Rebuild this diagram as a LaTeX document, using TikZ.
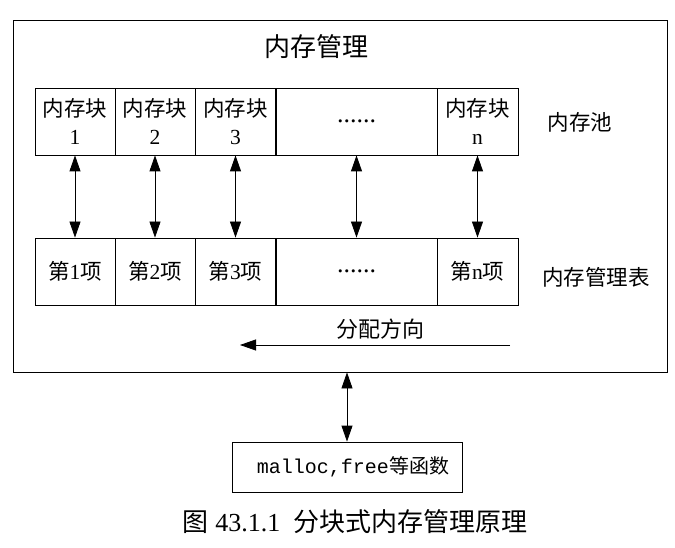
\documentclass[tikz,border=0pt]{standalone}
\usepackage{fontspec}
\setmainfont{Liberation Serif}
\setmonofont{Liberation Mono}
\newfontfamily\cjk{Noto Sans CJK SC}
\usetikzlibrary{arrows.meta,positioning}

\tikzset{
  cell/.style={draw, minimum height=67pt, inner sep=0pt, align=center,
    font=\fontsize{21.5}{28}\selectfont},
  sidelabel/.style={font=\fontsize{21.5}{25}\selectfont\cjk},
}

\begin{document}
\begin{tikzpicture}[x=1pt, y=-1pt, line width=0.8pt,
    >={Triangle[length=16pt,width=11pt]}]
  \useasboundingbox (0,0) rectangle (675,548);

  % ======= outer frame =======
  \node[draw, minimum width=654pt, minimum height=352pt, inner sep=0pt] (mgmt) at (340,196) {};
  \node[font=\fontsize{26}{30}\selectfont\cjk] (title) at (316,47) {内存管理};

  % ======= memory pool (top row) and table (bottom row) =======
  \foreach \i/\x in {1/75,2/155,3/235.5} {
    \node[cell, minimum width=80pt] (p\i) at (\x,121.5) {{\cjk 内存块}\\\i};
    \node[cell, minimum width=80pt] (t\i) at (\x,271.5) {{\cjk 第}\i{\cjk 项}};
  }
  \node[cell, minimum width=161pt, font=\fontsize{26}{30}\selectfont] (p4) at (356.5,121.5) {......};
  \node[cell, minimum width=161pt, font=\fontsize{26}{30}\selectfont] (t4) at (356.5,271.5) {......};
  \node[cell, minimum width=81pt] (p5) at (477.5,121.5) {{\cjk 内存块}\\n};
  \node[cell, minimum width=81pt] (t5) at (477.5,271.5) {{\cjk 第}n{\cjk 项}};

  \node[sidelabel] (pool) at (580,122) {内存池};
  \node[sidelabel] (table) at (596,277) {内存管理表};

  % links between blocks and table entries
  \foreach \i in {1,...,5} {
    \draw[<->] (p\i) -- (t\i);
  }

  % allocation direction
  \node[sidelabel, font=\fontsize{22}{26}\selectfont\cjk] (dir) at (380,329) {分配方向};
  \coordinate (dstart) at (510,345);
  \coordinate (dend) at (240,345);
  \draw[->] (dstart) -- (dend);

  % ======= functions =======
  \node[draw, minimum width=230pt, minimum height=50pt, inner sep=0pt,
    font=\fontsize{20}{24}\selectfont] (func) at (347,467)
    {\hspace{12pt}\ttfamily malloc,free{\cjk 等函数}};
  \draw[<->] (func.north |- mgmt.south) -- (func.north);

  \node[font=\fontsize{26}{30}\selectfont] (caption) at (355,522)
    {{\cjk 图} 43.1.1\ \ {\cjk 分块式内存管理原理}};
\end{tikzpicture}
\end{document}
